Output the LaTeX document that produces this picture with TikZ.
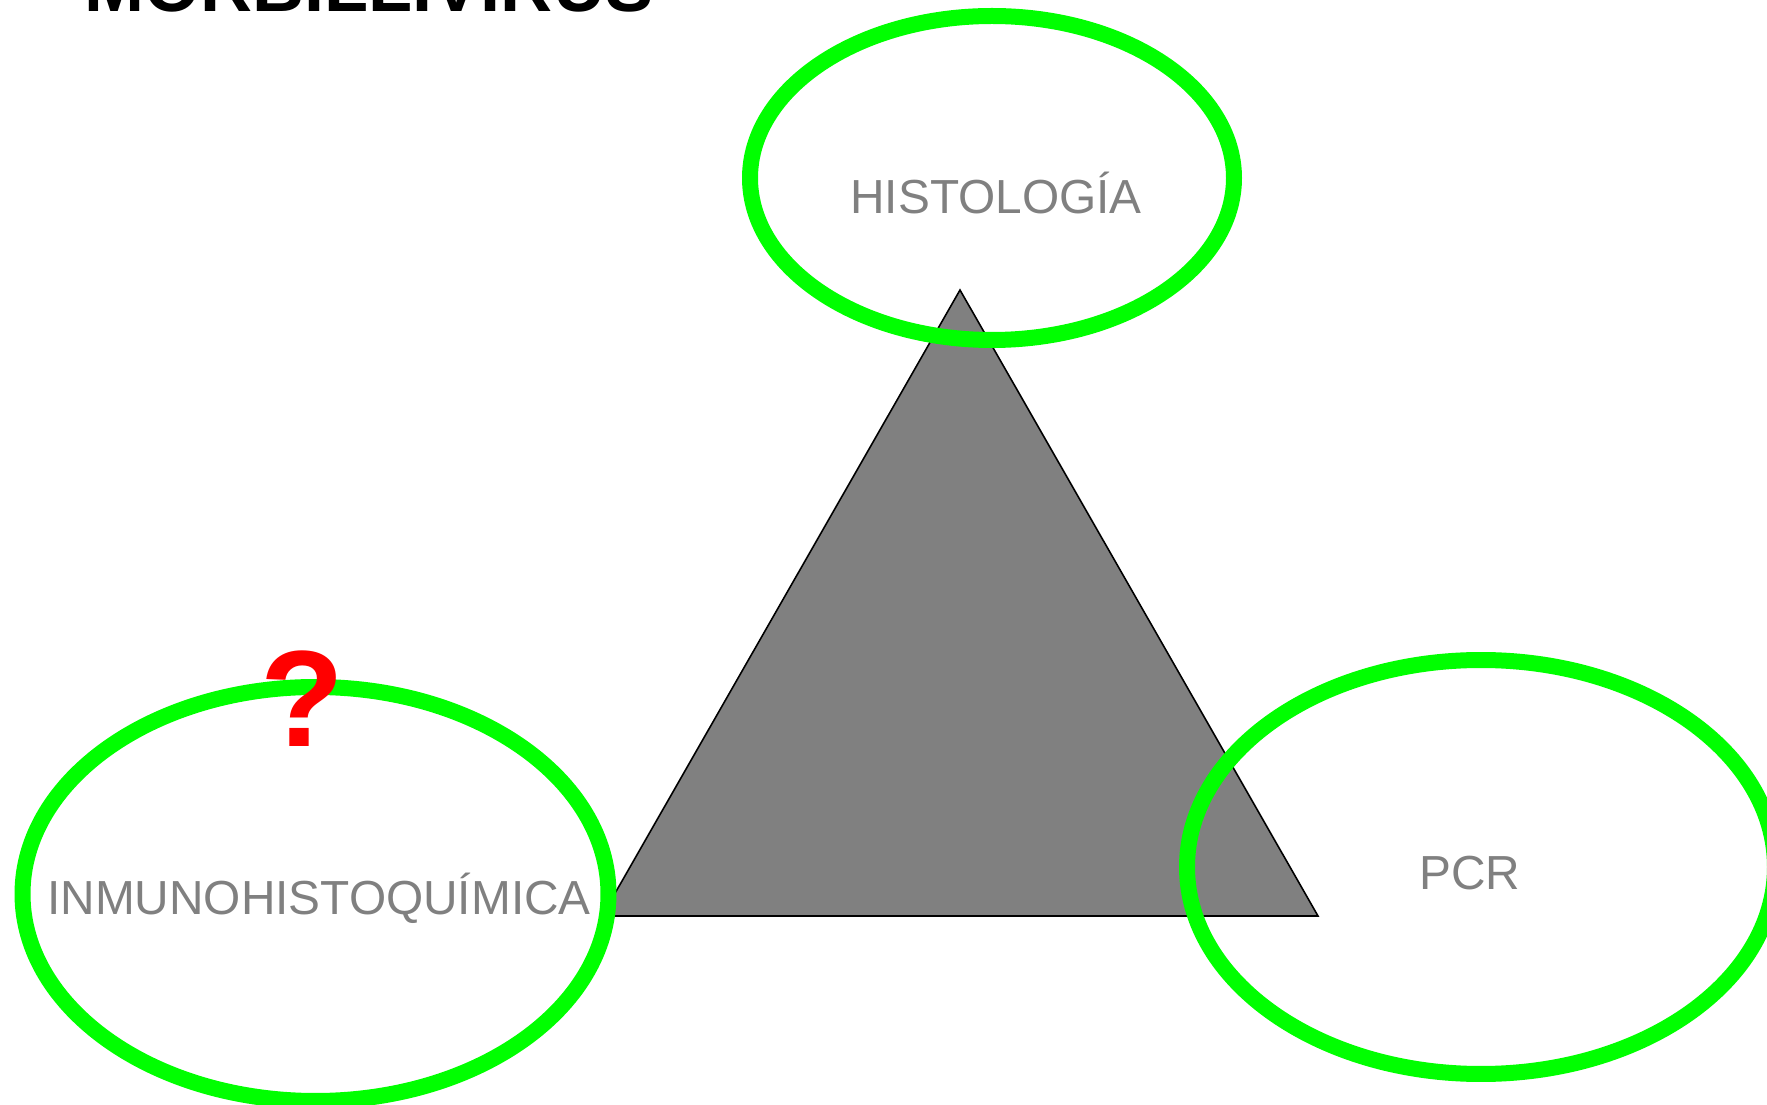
\documentclass[tikz,border=0pt]{standalone}
\usepackage{fontspec}
\setmainfont{Liberation Sans}
\usetikzlibrary{positioning}
\definecolor{ringgreen}{RGB}{0,255,0}
\definecolor{qred}{RGB}{255,0,0}
\begin{document}
\begin{tikzpicture}[x=0.1mm,y=-0.1mm,
   ring/.style={draw=ringgreen,line width=1.6mm},
   lbl/.style={text=gray,font=\fontsize{13.6}{16}\selectfont,inner sep=0pt,anchor=base}]
  \clip (0,0) rectangle (1767,1105);
  \node[anchor=base west,inner sep=0pt,font=\fontsize{20.5}{24}\selectfont\bfseries] (title) at (84,12) {MORBILLIVIRUS};
  \draw[fill=gray,line width=0.45pt] (960,290) -- (602,916) -- (1318,916) -- cycle;
  \draw[ring] (992,178) ellipse [x radius=24.2mm, y radius=16.2mm];
  \draw[ring] (315.5,894) ellipse [x radius=29.3mm, y radius=20.7mm];
  \draw[ring] (1481,867) ellipse [x radius=29.4mm, y radius=20.7mm];
  \node[lbl] (histo) at (996,214) {HISTOLOGÍA};
  \node[lbl] (inmuno) at (319,915) {INMUNOHISTOQUÍMICA};
  \node[lbl] (pcr) at (1470,890) {PCR};
  \node[anchor=base,inner sep=0pt,text=qred,font=\fontsize{39}{44}\selectfont\bfseries] (qmark) at (302,746) {?};
\end{tikzpicture}
\end{document}
